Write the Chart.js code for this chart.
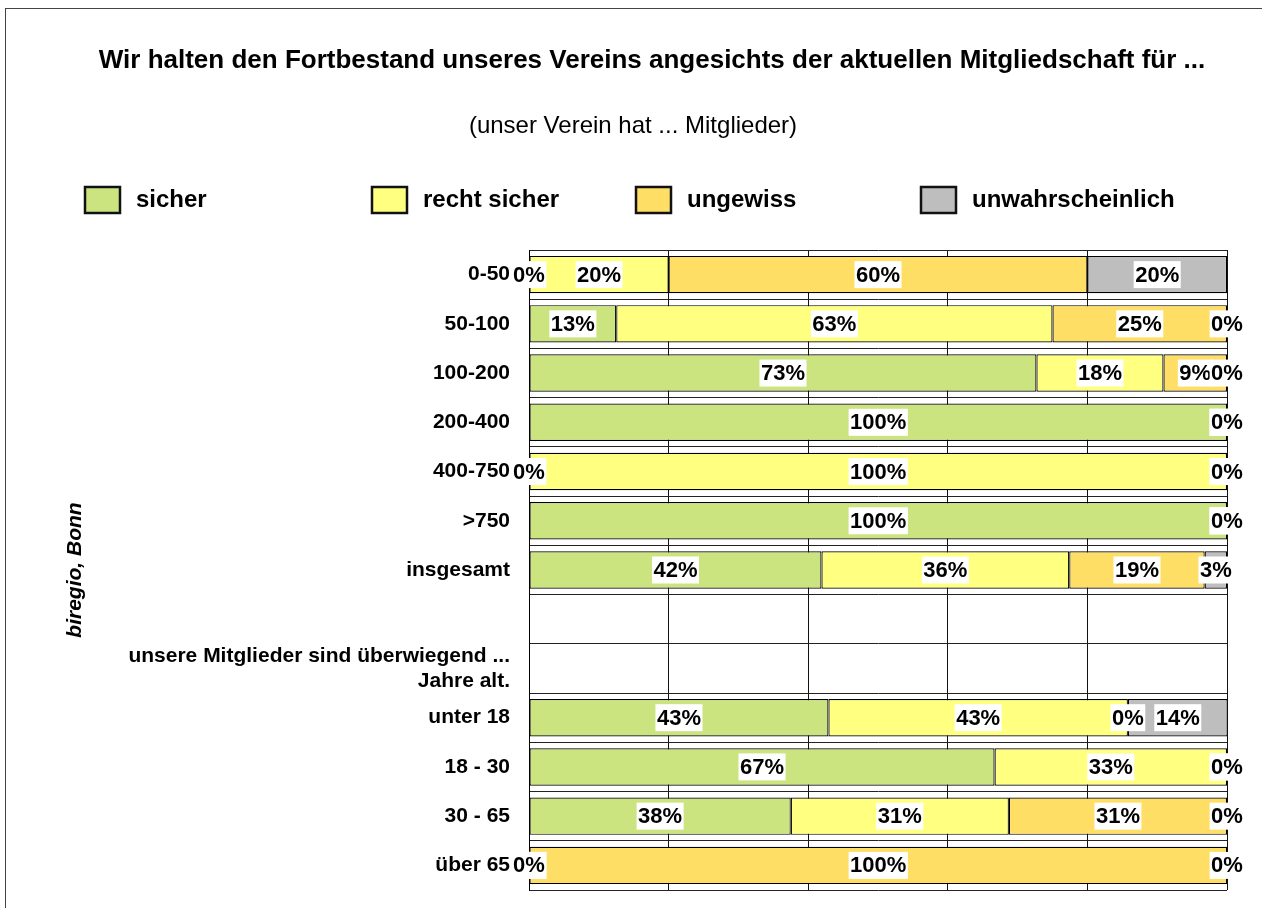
<!DOCTYPE html>
<html><head><meta charset="utf-8">
<script src="https://cdn.jsdelivr.net/npm/chart.js@4.4.1/dist/chart.umd.min.js"></script>
<style>
html,body{margin:0;padding:0;background:#fff;}
#wrap{position:relative;width:1262px;height:908px;overflow:hidden;}
#frame{position:absolute;left:5px;top:8px;right:-2px;bottom:-2px;border-left:1px solid #444;border-top:1px solid #444;pointer-events:none;}
canvas{position:absolute;left:0;top:0;}
</style></head><body>
<div id="wrap"><canvas id="c" width="1262" height="908"></canvas><div id="frame"></div></div>
<script>
const categories = ['0-50','50-100','100-200','200-400','400-750','>750','insgesamt','',['unsere Mitglieder sind überwiegend ...','Jahre alt.'],'unter 18','18 - 30','30 - 65','über 65'];
const seriesNames = ['sicher','recht sicher','ungewiss','unwahrscheinlich'];
const sicher           = [0, 12.5, 72.7, 100, 0, 100, 41.9, null, null, 42.9, 66.7, 37.5, 0];
const rechtSicher      = [20, 62.5, 18.2, 0, 100, 0, 35.5, null, null, 42.9, 33.3, 31.25, 0];
const ungewiss         = [60, 25, 9.1, 0, 0, 0, 19.4, null, null, 0, 0, 31.25, 100];
const unwahrscheinlich = [20, 0, 0, 0, 0, 0, 3.2, null, null, 14.3, 0, 0, 0];
const seriesColors = ['#CCE480', '#FFFF80', '#FFDE66', '#BEBEBE'];
const titleText = 'Wir halten den Fortbestand unseres Vereins angesichts der aktuellen Mitgliedschaft für ...';
const subtitleText = '(unser Verein hat ... Mitglieder)';
const axisTitle = 'biregio, Bonn';

const FONT = '"Liberation Sans", Arial, Helvetica, sans-serif';
const seriesData = [sicher, rechtSicher, ungewiss, unwahrscheinlich];

const decorPlugin = {
  id: 'decor',
  beforeDraw(chart) {
    const ctx = chart.ctx;
    ctx.save();
    ctx.fillStyle = '#fff';
    ctx.fillRect(0, 0, chart.width, chart.height);
    ctx.restore();
  },
  afterDraw(chart) {
    const ctx = chart.ctx;
    ctx.save();
    ctx.fillStyle = '#000';
    ctx.textAlign = 'center';
    ctx.textBaseline = 'middle';
    ctx.font = 'bold 26px ' + FONT;
    ctx.fillText(titleText, 652, 61);
    ctx.font = '24px ' + FONT;
    ctx.fillText(subtitleText, 633, 126);
    // legend
    const boxX = [85, 372, 636, 921];
    ctx.font = 'bold 24px ' + FONT;
    ctx.textAlign = 'left';
    seriesNames.forEach((n, i) => {
      ctx.fillStyle = seriesColors[i];
      ctx.fillRect(boxX[i], 187, 35, 26);
      ctx.strokeStyle = '#111';
      ctx.lineWidth = 2.5;
      ctx.strokeRect(boxX[i], 187, 35, 26);
      ctx.fillStyle = '#000';
      ctx.fillText(n, boxX[i] + 51, 200);
    });
    ctx.restore();
  },
  afterDatasetsDraw(chart) {
    const ctx = chart.ctx;
    ctx.save();
    ctx.font = 'bold 22px ' + FONT;
    ctx.textAlign = 'center';
    ctx.textBaseline = 'middle';
    chart.data.datasets.forEach((ds, di) => {
      const meta = chart.getDatasetMeta(di);
      meta.data.forEach((el, i) => {
        const v = ds.data[i];
        if (v === null || v === undefined) return;
        const t = Math.round(v) + '%';
        const x = (el.x + el.base) / 2, y = el.y;
        const w = ctx.measureText(t).width + 3;
        const h = 27;
        ctx.fillStyle = '#fff';
        ctx.fillRect(x - w / 2, y - h / 2, w, h);
        ctx.fillStyle = '#000';
        ctx.fillText(t, x, y + 1);
      });
    });
    ctx.restore();
  }
};

new Chart(document.getElementById('c'), {
  type: 'bar',
  data: {
    labels: categories,
    datasets: seriesNames.map((n, i) => ({
      label: n,
      data: seriesData[i],
      backgroundColor: seriesColors[i],
      borderColor: '#000',
      borderWidth: 1.2,
      borderSkipped: false,
      barPercentage: 0.76,
      categoryPercentage: 1
    }))
  },
  options: {
    indexAxis: 'y',
    responsive: false,
    animation: false,
    layout: { padding: { top: 250, right: 35, bottom: 18, left: 0 } },
    plugins: { legend: { display: false }, tooltip: { enabled: false }, title: { display: false } },
    scales: {
      x: {
        stacked: true, min: 0, max: 100,
        ticks: { display: false, stepSize: 20 },
        grid: { color: '#111', lineWidth: 1, drawTicks: false },
        border: { display: false },
        afterFit(s) { s.height = 0; s.paddingLeft = 0; s.paddingRight = 0; }
      },
      y: {
        stacked: true,
        ticks: { color: '#000', padding: 19, font: { family: FONT, size: 21, weight: 'bold' }, autoSkip: false },
        grid: { color: '#222', lineWidth: 1, drawTicks: false },
        border: { display: true, color: '#000' },
        title: { display: true, text: axisTitle, color: '#000', padding: { top: 63, bottom: 0 }, font: { family: FONT, size: 21, weight: 'bold', style: 'italic' } },
        afterFit(s) { s.width = 529; s.paddingTop = 0; s.paddingBottom = 0; }
      }
    }
  },
  plugins: [decorPlugin]
});
</script>
</body></html>
